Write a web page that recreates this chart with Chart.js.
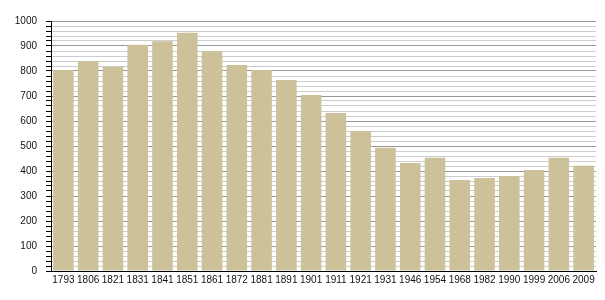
<!DOCTYPE html>
<html>
<head>
<meta charset="utf-8">
<script src="https://cdn.jsdelivr.net/npm/chart.js@4"></script>
<style>
  html, body { margin: 0; padding: 0; background: #fff; }
  #wrap { width: 605px; height: 300px; }
</style>
</head>
<body>
<div id="wrap"><canvas id="popChart" width="605" height="300"></canvas></div>
<script>
// years of census
var years = ['1793', '1806', '1821', '1831', '1841', '1851', '1861', '1872', '1881', '1891',
             '1901', '1911', '1921', '1931', '1946', '1954', '1968', '1982', '1990', '1999',
             '2006', '2009'];
// population
var population = [804, 839, 816, 905, 919, 953, 880, 824, 804, 764,
                  704, 632, 560, 493, 432, 453, 364, 372, 379, 404,
                  453, 421];
var yMax = 1000;
var yStep = 20;
var yLabelStep = 100;

var ctx = document.getElementById('popChart').getContext('2d');
var popChart = new Chart(ctx, {
    type: 'bar',
    data: {
        labels: years,
        datasets: [{
            data: population,
            backgroundColor: 'rgb(204,193,153)',
            borderWidth: 0,
            barPercentage: 0.83,
            categoryPercentage: 1.0
        }]
    },
    options: {
        responsive: false,
        animation: false,
        layout: { padding: { top: 21, right: 9, left: 0, bottom: 0 } },
        plugins: {
            legend: { display: false },
            tooltip: { enabled: false }
        },
        scales: {
            x: {
                grid: { display: false, drawTicks: false },
                border: { display: true, color: '#000', width: 1 },
                ticks: {
                    color: '#111',
                    font: { family: 'Liberation Sans', size: 10 },
                    padding: 3,
                    autoSkip: false,
                    maxRotation: 0
                },
                afterFit: function (scale) { scale.height = 29; }
            },
            y: {
                min: 0,
                max: yMax,
                border: { display: true, color: '#000', width: 1 },
                grid: {
                    color: function (c) {
                        return c.tick && c.tick.value % yLabelStep === 0 ? '#999' : '#cccccc';
                    },
                    tickColor: '#000',
                    tickLength: 5,
                    drawTicks: true
                },
                ticks: {
                    stepSize: yStep,
                    autoSkip: false,
                    color: '#111',
                    font: { family: 'Liberation Sans', size: 10 },
                    padding: 9,
                    callback: function (v) { return v % yLabelStep === 0 ? v : ''; }
                },
                afterFit: function (scale) { scale.width = 51; }
            }
        }
    }
});
</script>
</body>
</html>
